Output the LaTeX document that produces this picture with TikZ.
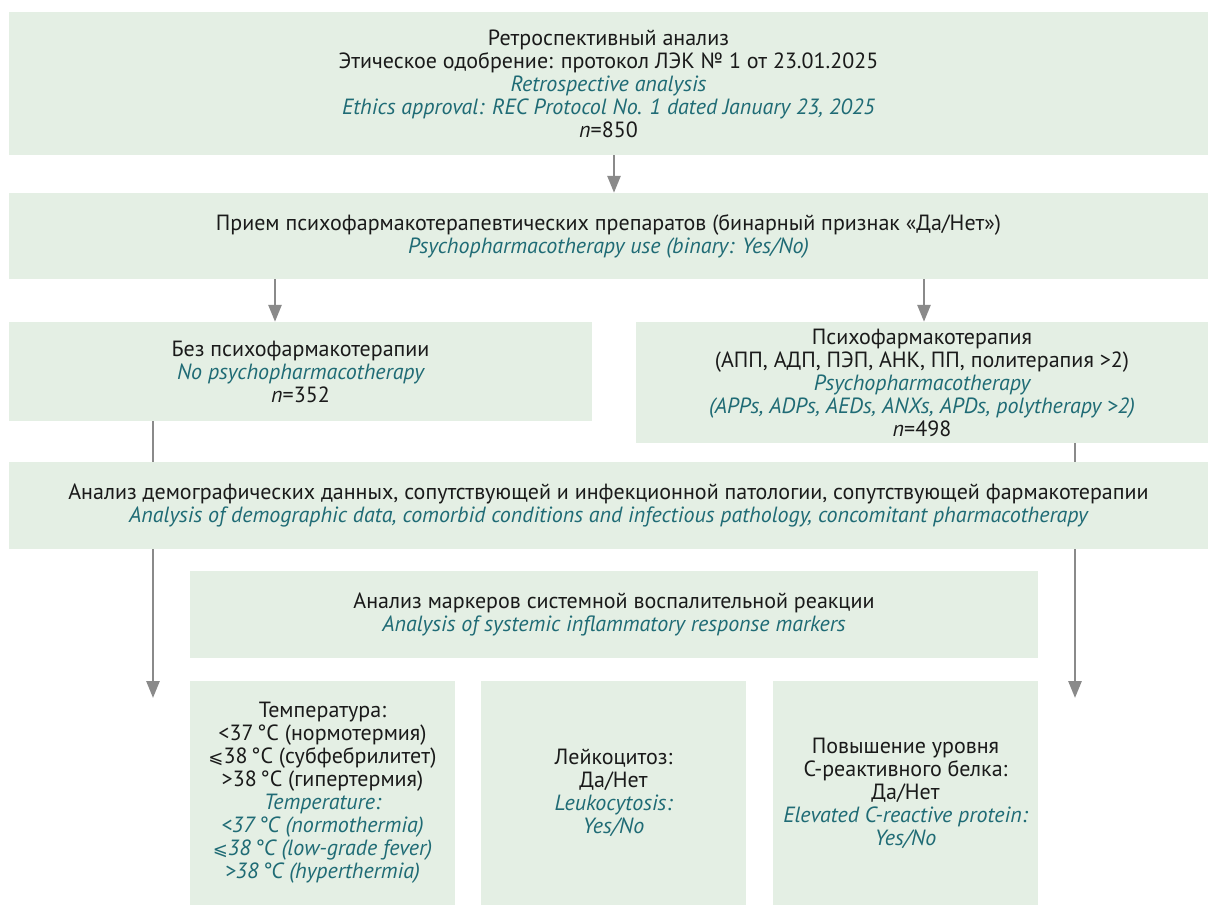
\documentclass[tikz,border=0pt]{standalone}
\usepackage{fontspec}
\setmainfont{PT Sans}
\newfontfamily\symfont{DejaVu Sans}
\usetikzlibrary{arrows.meta,backgrounds}
\definecolor{boxc}{HTML}{E4EFE4}
\definecolor{txtc}{HTML}{1A1A1A}
\definecolor{tealc}{HTML}{1F6B75}
\definecolor{arrc}{HTML}{8A8A8A}
\newcommand\enl[1]{{\itshape\color{tealc}#1}}
\newcommand\leqs{{\symfont\fontsize{18}{23}\selectfont ⩽}}
\tikzset{
  box/.style={fill=boxc, inner sep=0pt, align=center, text=txtc,
    font=\fontsize{22}{23}\selectfont},
  conn/.style={draw=arrc, line width=2.7pt, -{Triangle[width=13pt,length=17pt]}},
  plain/.style={draw=arrc, line width=2.7pt}
}
\begin{document}
\begin{tikzpicture}[x=1pt,y=-1pt]
\useasboundingbox (0,0) rectangle (1208,905);
\node[box, minimum width=1199pt, minimum height=143pt] (b1) at (608.5,83.5)
 {Ретроспективный анализ\\
  Этическое одобрение: протокол ЛЭК № 1 от 23.01.2025\\
  \enl{Retrospective analysis}\\
  \enl{Ethics approval: REC Protocol No. 1 dated January 23, 2025}\\
  \textit{n}=850};
\node[box, minimum width=1199pt, minimum height=86pt] (b2) at (608.5,236)
 {Прием психофармакотерапевтических препаратов (бинарный признак «Да/Нет»)\\
  \enl{Psychopharmacotherapy use (binary: Yes/No)}};
\node[box, minimum width=583pt, minimum height=99pt] (b3) at (300.5,371.5)
 {Без психофармакотерапии\\
  \enl{No psychopharmacotherapy}\\
  \textit{n}=352};
\node[box, minimum width=572pt, minimum height=121pt] (b4) at (922,382.5)
 {Психофармакотерапия\\
  (АПП, АДП, ПЭП, АНК, ПП, политерапия >2)\\
  \enl{Psychopharmacotherapy}\\
  \enl{(APPs, ADPs, AEDs, ANXs, APDs, polytherapy >2)}\\
  \textit{n}=498};
\node[box, minimum width=1199pt, minimum height=87pt] (b5) at (608.5,505.5)
 {Анализ демографических данных, сопутствующей и инфекционной патологии, сопутствующей фармакотерапии\\
  \enl{Analysis of demographic data, comorbid conditions and infectious pathology, concomitant pharmacotherapy}};
\node[box, minimum width=848pt, minimum height=87pt] (b6) at (614,614.5)
 {Анализ маркеров системной воспалительной реакции\\
  \enl{Analysis of systemic inflammatory response markers}};
\node[box, minimum width=265pt, minimum height=224pt] (b7) at (322.5,793)
 {Температура:\\
  <37\,°C (нормотермия)\\
  \leqs38\,°C (субфебрилитет)\\
  >38\,°C (гипертермия)\\
  \enl{Temperature:}\\
  \enl{<37\,°C (normothermia)}\\
  \enl{{\upshape\leqs}38\,°C (low-grade fever)}\\
  \enl{>38\,°C (hyperthermia)}};
\node[box, minimum width=265pt, minimum height=224pt] (b8) at (613.5,793)
 {Лейкоцитоз:\\
  Да/Нет\\
  \enl{Leukocytosis:}\\
  \enl{Yes/No}};
\node[box, minimum width=265pt, minimum height=224pt] (b9) at (905.5,793)
 {Повышение уровня\\
  С-реактивного белка:\\
  Да/Нет\\
  \enl{Elevated C-reactive protein:}\\
  \enl{Yes/No}};
\coordinate (e1) at (153,698);
\coordinate (e2) at (1075,698);
\begin{scope}[on background layer]
\draw[conn] (b1.south -| 614,0) -- (b2.north -| 614,0);
\draw[conn] (b2.south -| 275,0) -- (b3.north -| 275,0);
\draw[conn] (b2.south -| 924,0) -- (b4.north -| 924,0);
\draw[conn] (b3.south -| e1) -- (e1);
\draw[conn] (b4.south -| e2) -- (e2);
\end{scope}
\end{tikzpicture}
\end{document}
